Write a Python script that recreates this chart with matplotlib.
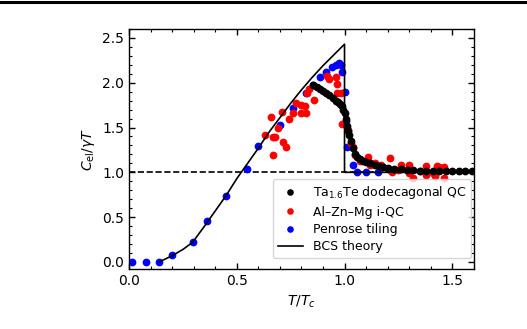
import matplotlib
matplotlib.use("Agg")
import matplotlib.pyplot as plt
from matplotlib.lines import Line2D
from matplotlib.ticker import MultipleLocator

# Penrose tiling (blue)
penrose_t = [0.015, 0.08, 0.14, 0.2, 0.295, 0.36, 0.45, 0.545, 0.60, 0.70, 0.76,
             0.82, 0.855, 0.885, 0.915, 0.94, 0.96, 0.975, 0.985, 0.99, 1.0,
             1.005, 1.01, 1.04, 1.06, 1.10, 1.155]
penrose_c = [0.0, 0.0, 0.0, 0.08, 0.22, 0.46, 0.74, 1.04, 1.29, 1.53, 1.72,
             1.88, 1.97, 2.06, 2.12, 2.17, 2.20, 2.22, 2.20, 2.12, 1.90,
             1.57, 1.28, 1.08, 1.0, 1.0, 1.0]

# Al-Zn-Mg i-QC (red)
alznmg_t = [0.629, 0.66, 0.667, 0.667, 0.675, 0.69, 0.71, 0.713, 0.73, 0.74,
            0.76, 0.777, 0.796, 0.796, 0.815, 0.82, 0.825, 0.834, 0.857, 0.917,
            0.93, 0.96, 0.965, 0.965, 0.983, 0.987, 1.015, 1.03, 1.04, 1.05,
            1.07, 1.11, 1.12, 1.14, 1.17, 1.21, 1.21, 1.22, 1.25, 1.26, 1.30,
            1.30, 1.32, 1.35, 1.38, 1.38, 1.41, 1.42, 1.43, 1.44, 1.46, 1.46]
alznmg_c = [1.42, 1.62, 1.19, 1.39, 1.39, 1.49, 1.67, 1.34, 1.28, 1.59,
            1.66, 1.77, 1.75, 1.66, 1.74, 1.66, 1.89, 1.93, 1.81, 2.08,
            2.04, 2.06, 1.99, 1.89, 1.88, 1.54, 1.47, 1.33, 1.28, 1.19,
            1.13, 1.17, 1.08, 1.10, 1.08, 1.16, 1.03, 1.0, 1.03, 1.08, 1.08,
            0.99, 0.94, 1.02, 1.07, 0.97, 0.99, 0.96, 1.07, 1.06, 1.06, 0.94]

# Ta1.6Te dodecagonal QC (black)
tate_t = [0.855, 0.87, 0.885, 0.90, 0.915, 0.93, 0.945, 0.96, 0.97, 0.98,
          0.99, 0.995, 1.0, 1.005, 1.01, 1.015, 1.02, 1.03, 1.04, 1.05, 1.06,
          1.07, 1.085, 1.10, 1.12, 1.14, 1.16, 1.18, 1.20, 1.23, 1.26, 1.29,
          1.32, 1.35, 1.38, 1.41, 1.44, 1.47, 1.50, 1.53, 1.56, 1.59]
tate_c = [1.97, 1.95, 1.93, 1.91, 1.89, 1.86, 1.83, 1.80, 1.78, 1.76,
          1.74, 1.70, 1.66, 1.60, 1.52, 1.46, 1.42, 1.35, 1.27, 1.21, 1.17,
          1.15, 1.13, 1.11, 1.10, 1.08, 1.07, 1.06, 1.05, 1.04, 1.04, 1.03,
          1.03, 1.02, 1.02, 1.02, 1.01, 1.01, 1.01, 1.01, 1.01, 1.01]

# BCS theory curve
bcs_t = [0.14, 0.2, 0.25, 0.295, 0.35, 0.4, 0.45, 0.5, 0.55, 0.6, 0.65, 0.7,
         0.75, 0.8, 0.85, 0.9, 0.95, 1.0, 1.0, 1.6]
bcs_c = [0.0, 0.07, 0.14, 0.22, 0.40, 0.57, 0.74, 0.93, 1.10, 1.27, 1.45, 1.61,
         1.77, 1.92, 2.06, 2.19, 2.31, 2.43, 1.0, 1.0]

fig = plt.figure(figsize=(5.27, 3.29), dpi=100)
ax = fig.add_axes([0.245, 0.182, 0.654, 0.730])

ms = 5.6
ax.plot(penrose_t, penrose_c, "o", color="blue", ms=ms, mec="none", zorder=2)
ax.plot(alznmg_t, alznmg_c, "o", color="red", ms=ms, mec="none", zorder=2)
ax.plot(tate_t, tate_c, "o", color="black", ms=ms, mec="none", zorder=2)
ax.plot(bcs_t, bcs_c, "-", color="black", lw=1.2, zorder=3)
ax.axhline(1.0, color="black", ls="--", lw=1.2, zorder=1)

ax.set_xlim(0, 1.6)
ax.set_ylim(-0.08, 2.6)
ax.xaxis.set_major_locator(MultipleLocator(0.5))
ax.xaxis.set_minor_locator(MultipleLocator(0.1))
ax.yaxis.set_major_locator(MultipleLocator(0.5))
ax.yaxis.set_minor_locator(MultipleLocator(0.1))
ax.tick_params(which="both", direction="in", top=True, right=True, labelsize=10)
ax.tick_params(which="major", length=4.5, width=1.0)
ax.tick_params(which="minor", length=2.5, width=0.8)
for s in ax.spines.values():
    s.set_linewidth(1.0)

ax.set_xlabel(r"$T/T_c$", fontsize=10)
ax.set_ylabel(r"$C_{\mathrm{el}}/\gamma T$", fontsize=10)

handles = [
    Line2D([], [], ls="none", marker="o", color="black", ms=ms, mec="none"),
    Line2D([], [], ls="none", marker="o", color="red", ms=ms, mec="none"),
    Line2D([], [], ls="none", marker="o", color="blue", ms=ms, mec="none"),
    Line2D([], [], color="black", lw=1.2),
]
labels = [r"Ta$_{1.6}$Te dodecagonal QC", "Al–Zn–Mg i-QC", "Penrose tiling", "BCS theory"]
ax.legend(handles, labels, loc="lower right", bbox_to_anchor=(1.0, 0.035),
          fontsize=9, handletextpad=0.8, labelspacing=0.34, markerscale=0.85,
          borderaxespad=0.2)

# thin rule across the top of the figure
fig.add_artist(Line2D([0, 1], [1 - 2 / 329, 1 - 2 / 329], color="black", lw=2.2,
                      transform=fig.transFigure))

fig.savefig("out.png", dpi=100)
